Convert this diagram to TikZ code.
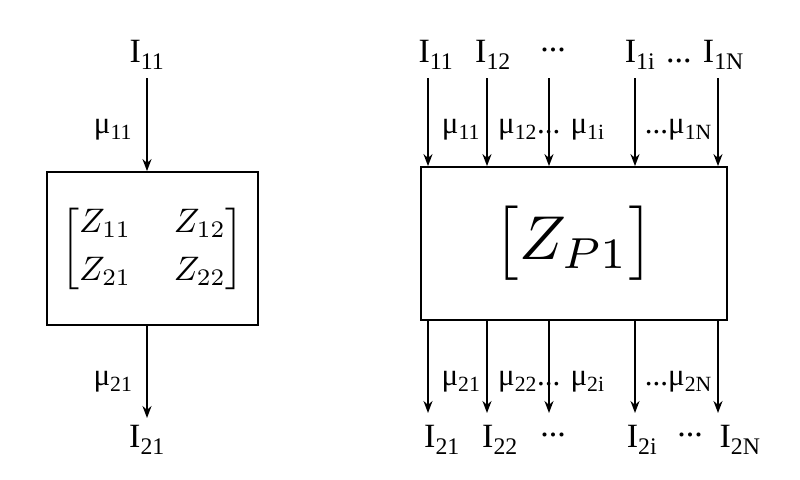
\documentclass[tikz,border=0pt]{standalone}
\usepackage{amsmath}
\usepackage{graphicx}
\usepackage{fontspec}
\setmainfont{Liberation Serif}
\usetikzlibrary{arrows.meta}
\begin{document}
\begin{tikzpicture}[x=1pt,y=-1pt,
  lab/.style={font=\fontsize{34}{38}\selectfont, inner sep=0pt},
  mlab/.style={font=\fontsize{31}{34}\selectfont, inner sep=0pt},
  box/.style={draw, line width=1.8pt},
  arr/.style={-{Stealth[length=12pt,width=9pt]}, line width=1.8pt}]
\useasboundingbox (0,0) rectangle (800,479);
% left
\node[box, minimum width=211pt, minimum height=153pt] (L) at (152.5,248.5) {};
\node[inner sep=0pt] (LM) at (L.center) {\scalebox{3.4}{$\begin{bmatrix} Z_{11} & \ Z_{12}\\[2pt] Z_{21} & \ Z_{22}\end{bmatrix}$}};
\node[lab] (LI1) at (147,55) {I\textsubscript{11}};
\node[mlab] (Lm1) at (113,130) {μ\textsubscript{11}};
\node[mlab] (Lm2) at (113,382) {μ\textsubscript{21}};
\node[lab] (LI2) at (147,440) {I\textsubscript{21}};
\coordinate (lt) at (147,78);
\coordinate (lb) at (147,418);
\draw[arr] (lt) -- (lt |- L.north);
\draw[arr] (lt |- L.south) -- (lb);
% right
\node[box, minimum width=306pt, minimum height=153pt] (R) at (574,243.5) {};
\node[inner sep=0pt] (RZ) at (R.center) {\scalebox{6.2}{$\bigl[Z_{P1}\bigr]$}};
\foreach \x [count=\i] in {428,487,549,635,718}{
  \coordinate (t\i) at (\x,78);
  \coordinate (b\i) at (\x,413);
  \draw[arr] (t\i) -- (t\i |- R.north);
  \draw[arr] (t\i |- R.south) -- (b\i);
}
\node[lab] (T1) at (436,55) {I\textsubscript{11}};
\node[lab] (T2) at (493,55) {I\textsubscript{12}};
\node[lab] (T3) at (553,50) {...};
\node[lab] (T4) at (640,55) {I\textsubscript{1i}};
\node[lab] (T5) at (705,55) {... I\textsubscript{1N}};
\node[mlab] (M1) at (461,130) {μ\textsubscript{11}};
\node[mlab, anchor=west] (M2) at (498,130) {μ\textsubscript{12}... μ\textsubscript{1i}};
\node[mlab, anchor=east] (M5) at (712,130) {...μ\textsubscript{1N}};
\node[mlab] (N1) at (461,382) {μ\textsubscript{21}};
\node[mlab, anchor=west] (N2) at (498,382) {μ\textsubscript{22}... μ\textsubscript{2i}};
\node[mlab, anchor=east] (N5) at (712,382) {...μ\textsubscript{2N}};
\node[lab] (B1) at (442,440) {I\textsubscript{21}};
\node[lab] (B2) at (500,440) {I\textsubscript{22}};
\node[lab] (B3) at (553,435) {...};
\node[lab] (B4) at (642,440) {I\textsubscript{2i}};
\node[lab] (B4b) at (690,435) {...};
\node[lab] (B5) at (740,440) {I\textsubscript{2N}};
\end{tikzpicture}
\end{document}
